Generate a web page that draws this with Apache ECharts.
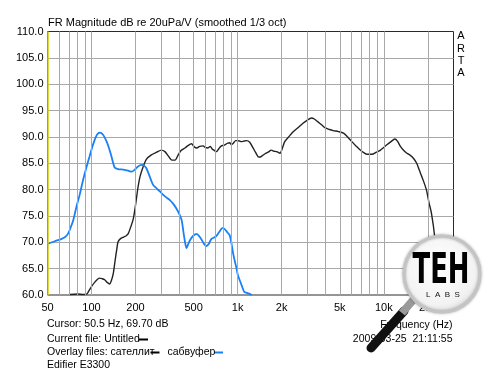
<!DOCTYPE html>
<html><head><meta charset="utf-8">
<script src="https://cdn.jsdelivr.net/npm/echarts@6/dist/echarts.min.js"></script>
<style>html,body{margin:0;padding:0;background:#fff}#c{width:500px;height:374px}</style>
</head><body><div id="c"></div>
<script>
// ---- data ----
const xTickValues = [50, 100, 200, 500, 1000, 2000, 5000, 10000, 20000];
const xTickLabels = ['50', '100', '200', '500', '1k', '2k', '5k', '10k', '20k'];
const xGridFreqs = [60,70,80,90,100,200,300,400,500,600,700,800,900,1000,2000,3000,4000,5000,6000,7000,8000,9000,10000,20000];
const cursorFreq = 50.5;
// subwoofer (blue) [Hz, dB]
const subwoofer = [[50,69.7],[56,70.2],[62,70.6],[66,71.0],[69,71.6],[72,72.8],[75,74.2],[79,76.8],[83,79.0],[87,81.5],[90,83.1],[94,85.0],[97,86.3],[101,88.0],[105,89.4],[109,90.4],[114,90.8],[120,90.4],[127,89.1],[132,87.8],[137,86.3],[144,84.2],[152,83.9],[165,83.8],[178,83.6],[188,83.4],[198,83.8],[208,84.4],[220,84.7],[230,84.5],[238,84.0],[250,82.5],[264,80.9],[280,80.2],[293,79.7],[315,78.8],[344,78.0],[365,77.2],[381,76.4],[400,75.3],[414,74.2],[428,71.5],[440,69.5],[448,68.9],[458,69.6],[472,70.4],[495,71.2],[525,71.6],[548,71.1],[570,70.4],[592,69.6],[612,69.3],[635,69.7],[660,70.6],[690,70.9],[716,71.2],[750,72.0],[785,72.7],[815,72.5],[850,71.9],[883,71.3],[905,70.0],[930,68.0],[955,66.5],[980,65.2],[1003,63.8],[1040,62.6],[1080,61.4],[1110,60.6],[1160,60.4],[1210,60.2],[1250,60.0]];
// satellite (black) [Hz, dB]
const satellite = [[71,60.1],[80,60.2],[88,60.1],[93,60.2],[97,61.0],[100,61.6],[105,62.4],[110,63.0],[114,63.2],[118,63.1],[123,62.9],[128,62.4],[133,62.1],[137,62.8],[141,64.1],[145,66.5],[149,68.7],[152,70.1],[158,70.7],[166,71.0],[172,71.2],[178,71.6],[185,72.8],[193,74.4],[200,77.0],[208,80.4],[215,82.5],[226,84.4],[238,85.8],[257,86.6],[279,87.1],[301,87.5],[318,87.2],[335,86.4],[355,85.6],[373,85.6],[392,86.6],[410,87.4],[436,87.9],[460,88.4],[483,88.7],[505,88.1],[525,87.9],[550,88.2],[581,88.3],[600,88.0],[627,87.9],[650,88.2],[670,87.7],[695,87.4],[717,87.2],[745,87.8],[774,88.3],[800,88.4],[856,88.8],[883,88.9],[905,88.5],[935,88.8],[970,89.3],[1000,89.3],[1035,89.2],[1060,89.1],[1100,89.2],[1150,89.3],[1210,89.0],[1275,87.9],[1330,87.0],[1390,86.2],[1430,86.2],[1470,86.4],[1540,86.8],[1620,87.1],[1700,87.5],[1760,87.3],[1850,87.2],[1950,86.9],[2020,87.8],[2100,89.1],[2250,90.1],[2400,91.0],[2600,91.8],[2800,92.6],[3000,93.2],[3200,93.6],[3350,93.4],[3530,92.9],[3750,92.3],[3980,91.7],[4250,91.4],[4500,91.2],[4900,91.0],[5300,90.7],[5700,89.9],[6050,89.1],[6500,88.2],[6900,87.5],[7300,87.0],[7700,86.7],[8300,86.7],[8900,87.1],[9500,87.5],[10000,88.0],[10500,88.5],[11200,89.1],[11900,89.6],[12400,89.2],[13000,88.2],[13700,87.4],[14400,86.9],[15200,86.5],[15900,86.0],[16800,85.0],[17500,83.7],[18600,81.8],[19600,79.9],[20400,77.5],[21200,75.5],[22300,71.1],[23000,66.0],[23600,60.5]];

const FONT = 'Liberation Sans';
const chart = echarts.init(document.getElementById('c'), null, {renderer: 'canvas'});
const option = {
  animation: false,
  grid: {left: 47.5, top: 31.5, width: 406, height: 263.5, show: true, borderColor: '#2a2a2a', borderWidth: 1, backgroundColor: '#fff'},
  xAxis: {type: 'log', logBase: 10, min: 50, max: 30000,
    axisLine: {show: false}, axisTick: {show: false}, axisLabel: {show: false}, splitLine: {show: false}},
  yAxis: {type: 'value', min: 60, max: 110, interval: 5,
    axisLine: {show: false}, axisTick: {show: false},
    axisLabel: {formatter: v => v.toFixed(1), color: '#000', fontSize: 11, fontFamily: FONT, margin: 4},
    splitLine: {show: true, showMinLine: false, showMaxLine: false, lineStyle: {color: '#a8a8a8', width: 1}}},
  series: [
    {type: 'line', data: [[50, 60]], symbol: 'none', lineStyle: {opacity: 0}, silent: true, z: 1,
      markLine: {silent: true, symbol: ['none', 'none'], label: {show: false},
        lineStyle: {color: '#a8a8a8', type: 'solid', width: 1},
        data: xGridFreqs.map(f => ({xAxis: f})).concat([{xAxis: cursorFreq, lineStyle: {color: '#d6cc00', width: 1.5}}])}},
    {name: 'сателлит', type: 'line', data: satellite, symbol: 'none', smooth: 0.25, z: 3,
      lineStyle: {color: '#222', width: 1.4}},
    {name: 'сабвуфер', type: 'line', data: subwoofer, symbol: 'none', smooth: 0.25, z: 4,
      lineStyle: {color: '#1a80f5', width: 1.8}}
  ]
};
chart.setOption(option);

const g = [];
const yLab = chart.convertToPixel({yAxisIndex: 0}, 60) + 13;
xTickValues.forEach((v, i) => {
  const x = chart.convertToPixel({xAxisIndex: 0}, v);
  g.push({type: 'text', x: x, y: yLab, style: {text: xTickLabels[i], fill: '#000', font: '11px ' + FONT, textAlign: 'center', textVerticalAlign: 'middle'}});
});
const T = (text, x, y, align, size) => ({type: 'text', x: x, y: y, z: 10, style: {text: text, fill: '#000', font: (size || 11) + 'px ' + FONT, textAlign: align || 'left', textVerticalAlign: 'middle'}});
g.push(T('FR Magnitude dB re 20uPa/V (smoothed 1/3 oct)', 48, 22.5));
g.push({type: 'text', x: 461, y: 30, z: 10, style: {text: 'A\nR\nT\nA', fill: '#000', font: '11px ' + FONT, textAlign: 'center', textVerticalAlign: 'top', lineHeight: 12.4}});
g.push(T('Cursor: 50.5 Hz, 69.70 dB', 47, 324.5, 'left', 10.5));
g.push(T('Current file: Untitled', 47, 339.5, 'left', 10.5));
g.push({type: 'rect', shape: {x: 139, y: 338.5, width: 9, height: 2}, style: {fill: '#000'}});
g.push(T('Overlay files: сателлит', 47, 352.5, 'left', 10.5));
g.push({type: 'rect', shape: {x: 150.5, y: 351.5, width: 9, height: 2}, style: {fill: '#000'}});
g.push(T('сабвуфер', 167.5, 352.5, 'left', 10.5));
g.push({type: 'rect', shape: {x: 214, y: 351.5, width: 9, height: 2}, style: {fill: '#1a80f5'}});
g.push(T('Edifier E3300', 47, 365.5, 'left', 10.5));
g.push(T('Frequency (Hz)', 452.5, 325, 'right', 10.5));
g.push(T('2009-03-25  21:11:55', 452.5, 339.5, 'right', 10.5));
// magnifier logo
g.push({type: 'line', z: 20, shape: {x1: 371, y1: 348, x2: 404, y2: 311}, style: {stroke: '#111', lineWidth: 9, lineCap: 'round'}});
g.push({type: 'line', z: 21, shape: {x1: 402, y1: 313, x2: 414, y2: 299}, style: {stroke: '#9a9a9a', lineWidth: 8}});
g.push({type: 'circle', z: 22, shape: {cx: 442, cy: 274, r: 38},
  style: {fill: new echarts.graphic.RadialGradient(0.45, 0.4, 0.7, [{offset: 0, color: '#ffffff'}, {offset: 0.7, color: '#f2f2f2'}, {offset: 1, color: '#cfcfcf'}]), stroke: '#c4c4c4', lineWidth: 3, shadowBlur: 3, shadowColor: 'rgba(0,0,0,0.3)'}});
g.push({type: 'text', z: 23, x: 441, y: 272, scaleX: 0.72, scaleY: 1.05,
  style: {text: 'TEH', fill: '#000', font: 'bold 40px "DejaVu Sans Condensed"', textAlign: 'center', textVerticalAlign: 'middle'}});
g.push({type: 'text', z: 23, x: 443, y: 294.5, style: {text: 'L  A  B  S', fill: '#111', font: '8px ' + FONT, textAlign: 'center', textVerticalAlign: 'middle'}});
chart.setOption({graphic: g});
</script></body></html>
